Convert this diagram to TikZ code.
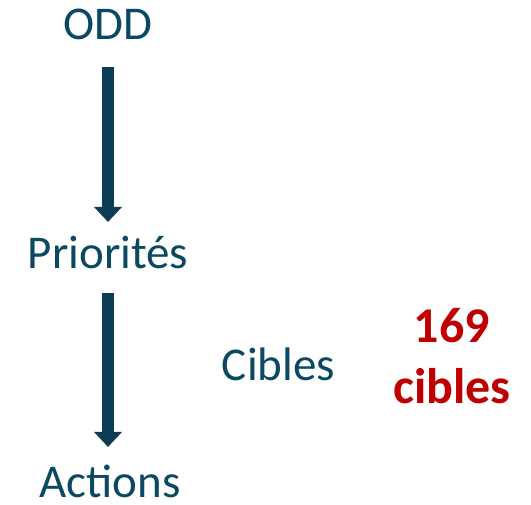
\documentclass[tikz,border=0pt]{standalone}
\usepackage{fontspec}
\setmainfont{Carlito}
\usetikzlibrary{arrows.meta}
\definecolor{txtblue}{HTML}{0B4862}
\definecolor{arrblue}{HTML}{0C3D55}
\definecolor{darkred}{HTML}{C00000}
\begin{document}
\begin{tikzpicture}[x=1pt,y=-1pt,
  lbl/.style={anchor=base,inner sep=0pt,text=txtblue,font=\fontsize{47}{50}\selectfont},
  big/.style={anchor=base,inner sep=0pt,text=darkred,font=\fontsize{50}{52}\selectfont\bfseries},
  bigarrow/.style={draw=arrblue,line width=12pt,-{Triangle[width=27pt,length=15pt,fill=arrblue]}}]
\useasboundingbox (0,0) rectangle (531,505);
\node[lbl] (odd) at (108,40) {ODD};
\node[lbl] (prio) at (108,269) {Priorités};
\node[lbl] (act) at (110,497) {Actions};
\node[lbl] (cib) at (278.5,380.5) {Cibles};
\node[big] (n169) at (452,343) {169};
\node[big] (cib2) at (452,404) {cibles};
\coordinate (a1s) at (108,67);
\coordinate (a1e) at (108,222);
\coordinate (a2s) at (108,293);
\coordinate (a2e) at (108,447);
\draw[bigarrow] (a1s) -- (a1e);
\draw[bigarrow] (a2s) -- (a2e);
\end{tikzpicture}
\end{document}
